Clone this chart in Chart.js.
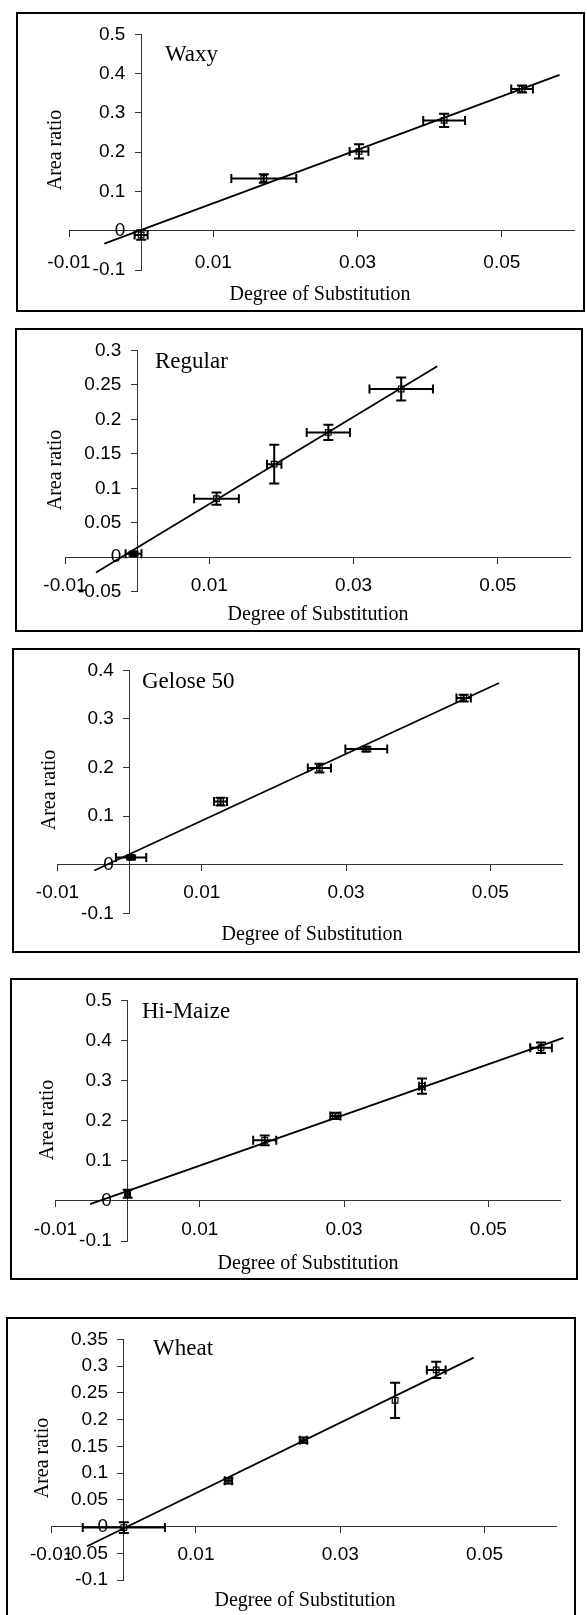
<!DOCTYPE html>
<html>
<head>
<meta charset="utf-8">
<script src="https://cdn.jsdelivr.net/npm/chart.js@4.4.0/dist/chart.umd.min.js"></script>
<style>
  html, body { margin: 0; padding: 0; background: #fff; }
  body { width: 587px; height: 1615px; position: relative; overflow: hidden; }
  .box { position: absolute; border: 2px solid #000; box-sizing: border-box; }
  canvas { position: absolute; left: 0; }
  .txt { position: absolute; font-family: "Liberation Serif", "Times New Roman", serif; color: #000; white-space: nowrap; line-height: 1; }
</style>
</head>
<body>
<script>
// shared x axis ticks
const xTicks = [-0.01, 0.01, 0.03, 0.05];

// Waxy
const waxyX = [0, 0.017, 0.0302, 0.042, 0.0528];
const waxyY = [-0.011, 0.133, 0.202, 0.281, 0.361];
const waxyXErr = [0.0009, 0.0045, 0.0013, 0.0029, 0.0015];
const waxyYErr = [0.012, 0.011, 0.018, 0.017, 0.009];
const waxyFitX = [-0.0051, 0.058];
const waxyFitY = [-0.033, 0.397];
const waxyYTicks = [-0.1, 0, 0.1, 0.2, 0.3, 0.4, 0.5];

// Regular
const regularX = [-0.0005, 0.011, 0.019, 0.0265, 0.0366];
const regularY = [0.005, 0.085, 0.135, 0.181, 0.244];
const regularXErr = [0.0011, 0.0031, 0.001, 0.003, 0.0044];
const regularYErr = [0.003, 0.009, 0.028, 0.011, 0.0166];
const regularFitX = [-0.0057, 0.0416];
const regularFitY = [-0.022, 0.277];
const regularYTicks = [-0.05, 0, 0.05, 0.1, 0.15, 0.2, 0.25, 0.3];

// Gelose 50
const geloseX = [0.0002, 0.0126, 0.0263, 0.0328, 0.0463];
const geloseY = [0.015, 0.13, 0.199, 0.238, 0.343];
const geloseXErr = [0.0021, 0.0009, 0.0016, 0.0029, 0.001];
const geloseYErr = [0.004, 0.008, 0.009, 0.005, 0.007];
const geloseFitX = [-0.0049, 0.0512];
const geloseFitY = [-0.012, 0.374];
const geloseYTicks = [-0.1, 0, 0.1, 0.2, 0.3, 0.4];

// Hi-Maize
const maizeX = [0, 0.019, 0.0288, 0.0408, 0.0573];
const maizeY = [0.018, 0.151, 0.212, 0.286, 0.382];
const maizeXErr = [0.0003, 0.0016, 0.0007, 0.0004, 0.0015];
const maizeYErr = [0.01, 0.012, 0.008, 0.019, 0.013];
const maizeFitX = [-0.0052, 0.0604];
const maizeFitY = [-0.008, 0.4065];
const maizeYTicks = [-0.1, 0, 0.1, 0.2, 0.3, 0.4, 0.5];

// Wheat
const wheatX = [0, 0.0145, 0.0249, 0.0376, 0.0433];
const wheatY = [-0.002, 0.0854, 0.1616, 0.236, 0.293];
const wheatXErr = [0.0057, 0.0005, 0.0005, 0, 0.0013];
const wheatYErr = [0.01, 0.005, 0.005, 0.033, 0.015];
const wheatFitX = [-0.0051, 0.0485];
const wheatFitY = [-0.037, 0.316];
const wheatYTicks = [-0.1, -0.05, 0, 0.05, 0.1, 0.15, 0.2, 0.25, 0.3, 0.35];

const panels = [
  { name: "Waxy", x: waxyX, y: waxyY, xErr: waxyXErr, yErr: waxyYErr, fitX: waxyFitX, fitY: waxyFitY, yTicks: waxyYTicks,
    box: [16, 12, 585, 312], area: [69, 574, 29.3, 270], label: [165, 53], xt: [320, 293], yt: [54, 150], pad: 15 },
  { name: "Regular", x: regularX, y: regularY, xErr: regularXErr, yErr: regularYErr, fitX: regularFitX, fitY: regularFitY, yTicks: regularYTicks,
    box: [15, 328, 583, 632], area: [65, 570, 345, 591.7], label: [155, 360], xt: [318, 613], yt: [54, 470], pad: 11 },
  { name: "Gelose 50", x: geloseX, y: geloseY, xErr: geloseXErr, yErr: geloseYErr, fitX: geloseFitX, fitY: geloseFitY, yTicks: geloseYTicks,
    box: [12, 648, 580, 953], area: [57.5, 562.5, 666.7, 913.3], label: [142, 680], xt: [312, 933], yt: [48, 790], pad: 11 },
  { name: "Hi-Maize", x: maizeX, y: maizeY, xErr: maizeXErr, yErr: maizeYErr, fitX: maizeFitX, fitY: maizeFitY, yTicks: maizeYTicks,
    box: [10, 978, 578, 1280], area: [55.5, 560.5, 996, 1241], label: [142, 1010], xt: [308, 1262], yt: [46, 1120], pad: 11 },
  { name: "Wheat", x: wheatX, y: wheatY, xErr: wheatXErr, yErr: wheatYErr, fitX: wheatFitX, fitY: wheatFitY, yTicks: wheatYTicks,
    box: [6, 1317, 576, 1640], area: [51.7, 556.7, 1334, 1580], label: [153, 1347], xt: [305, 1599], yt: [41, 1458], pad: 11 }
];

Chart.defaults.font.family = '"Liberation Sans", Arial, sans-serif';
Chart.defaults.font.size = 19;
Chart.defaults.color = '#000';

// error bars with caps, drawn through the chart scales
const errorBars = {
  id: 'errorBars',
  afterDatasetsDraw(chart) {
    const ctx = chart.ctx, xs = chart.scales.x, ys = chart.scales.y;
    chart.data.datasets.forEach(ds => {
      if (!ds.xErr) return;
      ctx.save();
      ctx.strokeStyle = '#000';
      ctx.lineWidth = 2;
      ds.data.forEach((p, i) => {
        const px = xs.getPixelForValue(p.x), py = ys.getPixelForValue(p.y);
        ctx.beginPath();
        if (ds.xErr[i] > 0) {
          const x0 = xs.getPixelForValue(p.x - ds.xErr[i]), x1 = xs.getPixelForValue(p.x + ds.xErr[i]);
          ctx.moveTo(x0, py); ctx.lineTo(x1, py);
          ctx.moveTo(x0, py - 4.5); ctx.lineTo(x0, py + 4.5);
          ctx.moveTo(x1, py - 4.5); ctx.lineTo(x1, py + 4.5);
        }
        if (ds.yErr[i] > 0) {
          const y0 = ys.getPixelForValue(p.y - ds.yErr[i]), y1 = ys.getPixelForValue(p.y + ds.yErr[i]);
          ctx.moveTo(px, y0); ctx.lineTo(px, y1);
          ctx.moveTo(px - 5, y0); ctx.lineTo(px + 5, y0);
          ctx.moveTo(px - 5, y1); ctx.lineTo(px + 5, y1);
        }
        ctx.stroke();
      });
      ctx.restore();
    });
  }
};

function addText(str, x, y, size, css) {
  const d = document.createElement('div');
  d.className = 'txt';
  d.textContent = str;
  d.style.fontSize = size + 'px';
  d.style.left = x + 'px';
  d.style.top = y + 'px';
  d.style.transform = css;
  document.body.appendChild(d);
}

panels.forEach(p => {
  const [bl, bt, br, bb] = p.box;
  const [L, R, T, B] = p.area;

  const canvas = document.createElement('canvas');
  canvas.width = 587;
  canvas.height = bb - bt;
  canvas.style.top = bt + 'px';
  document.body.appendChild(canvas);

  const frame = document.createElement('div');
  frame.className = 'box';
  frame.style.left = bl + 'px';
  frame.style.top = bt + 'px';
  frame.style.width = (br - bl) + 'px';
  frame.style.height = (bb - bt) + 'px';
  document.body.appendChild(frame);

  addText(p.name, p.label[0], p.label[1], 23, 'translateY(-50%)');
  addText('Degree of Substitution', p.xt[0], p.xt[1], 20, 'translate(-50%, -50%)');
  addText('Area ratio', p.yt[0], p.yt[1], 20, 'translate(-50%, -50%) rotate(-90deg)');

  const points = p.x.map((v, i) => ({ x: v, y: p.y[i] }));
  const fit = p.fitX.map((v, i) => ({ x: v, y: p.fitY[i] }));
  const yTicks = p.yTicks;

  new Chart(canvas.getContext('2d'), {
    type: 'scatter',
    data: {
      datasets: [
        { data: fit, showLine: true, borderColor: '#000', borderWidth: 1.8, pointRadius: 0, clip: false },
        { data: points, xErr: p.xErr, yErr: p.yErr, pointStyle: 'rect', pointRadius: 4,
          backgroundColor: '#fff', borderColor: '#000', borderWidth: 1.2, clip: false }
      ]
    },
    options: {
      responsive: false,
      animation: false,
      devicePixelRatio: 1,
      layout: { padding: { left: L, right: 587 - R, top: T - bt, bottom: bb - B } },
      plugins: { legend: { display: false }, tooltip: { enabled: false } },
      scales: {
        x: {
          type: 'linear', min: -0.01, max: 0.06, position: { y: 0 },
          afterBuildTicks: axis => { axis.ticks = xTicks.map(v => ({ value: v })); },
          grid: { drawOnChartArea: false, drawTicks: true, tickLength: 6, color: '#333', lineWidth: 1 },
          border: { display: true, color: '#333', width: 1 },
          ticks: { autoSkip: false, maxRotation: 0, padding: p.pad, callback: v => String(v) }
        },
        y: {
          type: 'linear', min: yTicks[0], max: yTicks[yTicks.length - 1], position: { x: 0 },
          afterBuildTicks: axis => { axis.ticks = yTicks.map(v => ({ value: v })); },
          grid: { drawOnChartArea: false, drawTicks: true, tickLength: 6, color: '#333', lineWidth: 1 },
          border: { display: true, color: '#333', width: 1 },
          // labels of a value-positioned axis sit on the line, so pad them with spaces
          ticks: { autoSkip: false, padding: 11, callback: v => String(v) + '   ' }
        }
      }
    },
    plugins: [errorBars]
  });
});
</script>
</body>
</html>
